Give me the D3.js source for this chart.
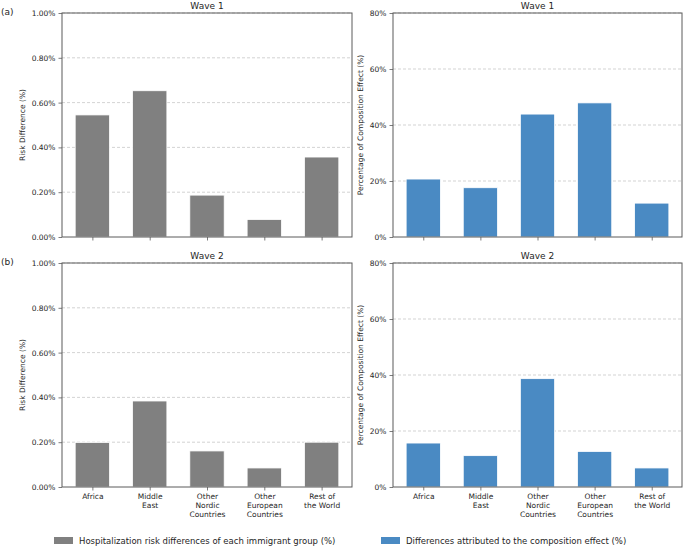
<!DOCTYPE html>
<html>
<head>
<meta charset="utf-8">
<script src="https://cdn.jsdelivr.net/npm/d3@7"></script>
<style>
  html, body { margin: 0; padding: 0; background: #fff; }
  svg { display: block; font-family: "DejaVu Sans", sans-serif; }
</style>
</head>
<body>
<div id="chart"></div>
<script>
// ---- data ----
const categories = ["Africa", "Middle East", "Other Nordic Countries", "Other European Countries", "Rest of the World"];
const categoryLines = [["Africa"], ["Middle", "East"], ["Other", "Nordic", "Countries"], ["Other", "European", "Countries"], ["Rest of", "the World"]];
const wave1Risk = [0.545, 0.653, 0.187, 0.078, 0.357];
const wave1Comp = [20.7, 17.6, 43.9, 47.9, 12.1];
const wave2Risk = [0.199, 0.384, 0.161, 0.085, 0.200];
const wave2Comp = [15.7, 11.2, 38.7, 12.7, 6.8];
const riskTicks = [0, 0.2, 0.4, 0.6, 0.8, 1.0];
const compTicks = [0, 20, 40, 60, 80];
const panelTitles = ["Wave 1", "Wave 2"];
const panelTags = ["(a)", "(b)"];
const legendLabels = ["Hospitalization risk differences of each immigrant group (%)", "Differences attributed to the composition effect (%)"];

const W = 683, H = 548;
const grayColor = "#808080", blueColor = "#4a8ac3";
const textColor = "#262626", spineColor = "#5a5a5a";

const svg = d3.select("#chart").append("svg").attr("width", W).attr("height", H);

const cols = [{x0: 62, x1: 352, lab: 37}, {x0: 393, x1: 682, lab: 30}];
const rows = [{y0: 13, y1: 237}, {y0: 263, y1: 487}];

function panel(col, row, values, ticks, fmt, color, ylabel, title, showX) {
  const x = d3.scaleLinear().domain([-0.53, 4.53]).range([col.x0, col.x1]);
  const y = d3.scaleLinear().domain([0, ticks[ticks.length - 1]]).range([row.y1, row.y0]);
  const g = svg.append("g");

  // grid
  g.selectAll("line.grid").data(ticks.slice(1)).enter().append("line")
    .attr("x1", col.x0).attr("x2", col.x1)
    .attr("y1", d => y(d)).attr("y2", d => y(d))
    .attr("stroke", "#c8c8c8").attr("stroke-width", 0.8)
    .attr("stroke-dasharray", "3,2");

  // bars
  g.selectAll("rect.bar").data(values).enter().append("rect")
    .attr("x", (d, i) => x(i - 0.3))
    .attr("width", (d, i) => x(i + 0.3) - x(i - 0.3))
    .attr("y", d => y(d))
    .attr("height", d => y(0) - y(d))
    .attr("fill", color)
    .attr("stroke", "#ffffff").attr("stroke-width", 0.8);

  // y axis
  const yAxis = d3.axisLeft(y).tickValues(ticks).tickFormat(fmt).tickSize(3.5).tickPadding(3);
  const ya = g.append("g").attr("transform", `translate(${col.x0},0)`).call(yAxis);
  ya.select(".domain").remove();
  ya.selectAll(".tick line").attr("stroke", spineColor).attr("stroke-width", 0.8);
  ya.selectAll(".tick text").attr("font-size", 7.5).attr("fill", textColor)
    .attr("font-family", "DejaVu Sans");

  // x axis
  const xAxis = d3.axisBottom(x).tickValues(d3.range(categories.length)).tickSize(3.5).tickFormat("");
  const xa = g.append("g").attr("transform", `translate(0,${row.y1})`).call(xAxis);
  xa.select(".domain").remove();
  xa.selectAll(".tick line").attr("stroke", spineColor).attr("stroke-width", 0.8);
  if (showX) {
    xa.selectAll(".tick").each(function(d) {
      const t = d3.select(this).append("text")
        .attr("text-anchor", "middle").attr("font-size", 7.5).attr("fill", textColor)
        .attr("font-family", "DejaVu Sans");
      categoryLines[d].forEach((ln, k) => {
        t.append("tspan").attr("x", 0).attr("y", 12 + k * 9).text(ln);
      });
    });
  }

  // spines
  g.append("rect").attr("x", col.x0).attr("y", row.y0)
    .attr("width", col.x1 - col.x0).attr("height", row.y1 - row.y0)
    .attr("fill", "none").attr("stroke", spineColor).attr("stroke-width", 1);

  // title
  g.append("text").attr("x", (col.x0 + col.x1) / 2).attr("y", row.y0 - 4)
    .attr("text-anchor", "middle").attr("font-size", 9).attr("fill", textColor).text(title);

  // y label
  g.append("text")
    .attr("transform", `translate(${col.x0 - col.lab},${(row.y0 + row.y1) / 2}) rotate(-90)`)
    .attr("text-anchor", "middle").attr("font-size", 7.5).attr("fill", textColor).text(ylabel);
}

const riskFmt = d => d3.format(".2f")(d) + "%";
const compFmt = d => d3.format("d")(d) + "%";

panel(cols[0], rows[0], wave1Risk, riskTicks, riskFmt, grayColor, "Risk Difference (%)", panelTitles[0], false);
panel(cols[1], rows[0], wave1Comp, compTicks, compFmt, blueColor, "Percentage of Composition Effect (%)", panelTitles[0], false);
panel(cols[0], rows[1], wave2Risk, riskTicks, riskFmt, grayColor, "Risk Difference (%)", panelTitles[1], true);
panel(cols[1], rows[1], wave2Comp, compTicks, compFmt, blueColor, "Percentage of Composition Effect (%)", panelTitles[1], true);

// panel tags
svg.append("text").attr("x", 1).attr("y", 15).attr("font-size", 9).attr("fill", textColor).text(panelTags[0]);
svg.append("text").attr("x", 1).attr("y", 265).attr("font-size", 9).attr("fill", textColor).text(panelTags[1]);

// legend
const legend = [{label: legendLabels[0], color: grayColor, x: 54}, {label: legendLabels[1], color: blueColor, x: 381}];
const lg = svg.append("g");
legend.forEach(l => {
  lg.append("rect").attr("x", l.x).attr("y", 537).attr("width", 19).attr("height", 7).attr("fill", l.color);
  lg.append("text").attr("x", l.x + 25).attr("y", 543.5).attr("font-size", 8.5).attr("fill", textColor).text(l.label);
});
</script>
</body>
</html>
